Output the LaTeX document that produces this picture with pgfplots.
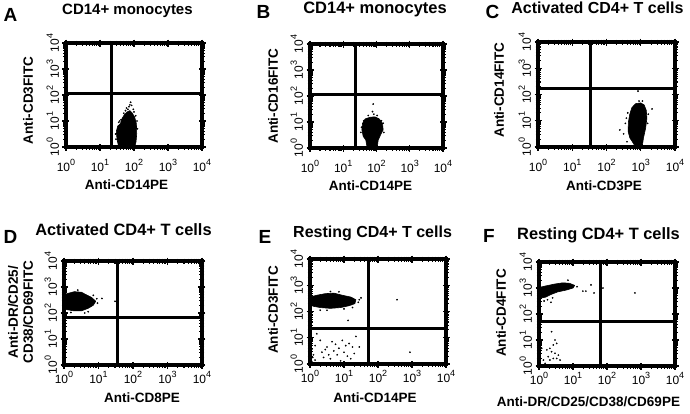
\documentclass[border=0pt]{standalone}
\usepackage{fontspec}
\setmainfont{Liberation Sans}
\usepackage{pgfplots}
\pgfplotsset{compat=1.18}
\newcommand{\tl}[1]{10\raisebox{0.5em}{\fontsize{9}{9}\selectfont #1}}
\pgfplotsset{
 flow/.style={
  scale only axis, anchor=south west, clip=false,
  xmin=0,xmax=4,ymin=0,ymax=4,
  xtick={0,1,2,3,4}, ytick={0,1,2,3,4},
  xticklabels={\tl{0},\tl{1},\tl{2},\tl{3},\tl{4}},
  yticklabels={\tl{0},\tl{1},\tl{2},\tl{3},\tl{4}},
  minor xtick={0.301,0.477,0.602,0.699,0.778,0.845,0.903,0.954,1.301,1.477,1.602,1.699,1.778,1.845,1.903,1.954,2.301,2.477,2.602,2.699,2.778,2.845,2.903,2.954,3.301,3.477,3.602,3.699,3.778,3.845,3.903,3.954},
  minor ytick={0.301,0.477,0.602,0.699,0.778,0.845,0.903,0.954,1.301,1.477,1.602,1.699,1.778,1.845,1.903,1.954,2.301,2.477,2.602,2.699,2.778,2.845,2.903,2.954,3.301,3.477,3.602,3.699,3.778,3.845,3.903,3.954},
  tick align=center, major tick length=7pt, minor tick length=5pt,
  every tick/.style={black, line width=1.1pt},
  axis line style={line width=3.2pt},
  every outer x axis line/.append style={line width=3.2pt},
  every outer y axis line/.append style={line width=3.2pt},
  tick label style={font=\fontsize{12}{13}\selectfont},
  yticklabel style={rotate=90, anchor=south},
  label style={font=\bfseries\fontsize{13.5}{15}\selectfont},
  xlabel style={anchor=base},
  ylabel style={anchor=center, rotate=0},
  title style={font=\bfseries\fontsize{16}{18}\selectfont, anchor=base},
 },
 toprow/.style={xticklabel style={anchor=north, yshift=-5pt}},
 botrow/.style={xticklabel style={anchor=north, yshift=1pt}},
 quad/.style={black, line width=3pt, no marks},
 blob/.style={fill=black, draw=black, line width=0.6pt, line join=round, no marks},
 dots/.style={only marks, mark=*, mark size=0.65pt, black},
}
\tikzset{letter/.style={font=\bfseries\fontsize{19}{20}\selectfont, anchor=base}}
\begin{document}
\begin{tikzpicture}
\useasboundingbox (0,0) rectangle (690pt,413pt);
% ---------------- A
\begin{axis}[flow, toprow, at={(66pt,266pt)}, width=136pt, height=104pt,
  title={CD14+ monocytes}, title style={at={(axis description cs:0.452,1.221)}, font=\bfseries\fontsize{15}{17}\selectfont},
  xlabel={Anti-CD14PE}, xlabel style={at={(axis description cs:0.445,-0.413)}},
  ylabel={Anti-CD3FITC}, ylabel style={at={(axis description cs:-0.279,0.447)}}]
\addplot[quad] coordinates {(1.35,0) (1.35,4)};
\addplot[quad] coordinates {(0,2.04) (4,2.04)};
\addplot[blob] coordinates {(1.55,0) (1.50,0.3) (1.48,0.6) (1.52,0.8) (1.60,0.9) (1.65,1.1) (1.72,1.25) (1.80,1.35) (1.88,1.4) (1.95,1.3) (2.02,1.15) (2.07,0.9) (2.08,0.5) (2.06,0.2) (2.02,0) (1.55,0)};
\addplot[dots] coordinates {(1.90,1.72) (1.85,1.55) (1.93,1.6) (1.78,1.5) (1.98,1.45) (1.70,1.3) (2.05,1.2) (1.55,0.95) (1.46,0.5) (2.1,0.7) (1.88,1.62) (1.82,1.45) (1.62,1.05) (2.09,1.0) (1.75,1.4) (2.0,1.35) (1.47,0.3) (1.58,1.0)};
\node[letter] at (axis description cs:-0.408,1.202) {A};
\end{axis}
% ---------------- B
\begin{axis}[flow, toprow, at={(310pt,265pt)}, width=133pt, height=104pt,
  title={CD14+ monocytes}, title style={at={(axis description cs:0.489,1.24)}, font=\bfseries\fontsize{16.5}{18}\selectfont},
  xlabel={Anti-CD14PE}, xlabel style={at={(axis description cs:0.455,-0.404)}},
  ylabel={Anti-CD16FITC}, ylabel style={at={(axis description cs:-0.278,0.5)}}]
\addplot[quad] coordinates {(1.38,0) (1.38,4)};
\addplot[quad] coordinates {(0,2.04) (4,2.04)};
\addplot[blob] coordinates {(1.72,0) (1.68,0.3) (1.60,0.45) (1.56,0.7) (1.58,0.95) (1.66,1.12) (1.80,1.18) (1.95,1.2) (2.08,1.12) (2.18,0.95) (2.2,0.7) (2.12,0.5) (2.05,0.3) (2.02,0) (1.72,0)};
\addplot[dots] coordinates {(1.9,1.69) (1.88,1.4) (1.92,1.3) (2.2,0.95) (1.55,0.8) (2.22,0.6) (1.62,1.05) (1.75,1.25) (2.02,1.25) (1.53,0.6) (2.15,1.05)};
\node[letter] at (axis description cs:-0.35,1.247) {B};
\end{axis}
% ---------------- C
\begin{axis}[flow, toprow, at={(538pt,266pt)}, width=137pt, height=105pt,
  title={Activated CD4+ T cells}, title style={at={(axis description cs:0.434,1.216)}},
  xlabel={Anti-CD3PE}, xlabel style={at={(axis description cs:0.482,-0.41)}},
  ylabel={Anti-CD14FITC}, ylabel style={at={(axis description cs:-0.285,0.543)}}]
\addplot[quad] coordinates {(1.52,0) (1.52,4)};
\addplot[quad] coordinates {(0,2.21) (4,2.21)};
\addplot[blob] coordinates {(2.85,0) (2.78,0.15) (2.68,0.35) (2.63,0.6) (2.64,0.95) (2.68,1.25) (2.74,1.5) (2.85,1.65) (3.0,1.68) (3.1,1.6) (3.16,1.4) (3.18,1.1) (3.14,0.7) (3.08,0.35) (3.04,0) (2.85,0)};
\addplot[dots] coordinates {(2.92,2.13) (2.39,0.65) (3.33,1.45) (2.55,0.9) (2.5,0.5) (3.22,1.25) (2.6,0.2) (2.95,1.75) (3.2,0.9) (2.58,1.1) (2.62,1.3) (3.05,1.75)};
\node[letter] at (axis description cs:-0.332,1.226) {C};
\end{axis}
% ---------------- D
\begin{axis}[flow, botrow, at={(64pt,48pt)}, width=138pt, height=104pt,
  title={Activated CD4+ T cells}, title style={at={(axis description cs:0.431,1.183)}, font=\bfseries\fontsize{16.4}{18}\selectfont},
  xlabel={Anti-CD8PE}, xlabel style={at={(axis description cs:0.565,-0.365)}},
  ylabel={Anti-DR/CD25/\\CD38/CD69FITC}, ylabel style={at={(axis description cs:-0.315,0.51)}, align=center}]
\addplot[quad] coordinates {(1.54,0) (1.54,4)};
\addplot[quad] coordinates {(0,1.81) (4,1.81)};
\addplot[blob] coordinates {(0,2.15) (0,2.7) (0.1,2.75) (0.3,2.82) (0.5,2.8) (0.65,2.7) (0.8,2.6) (0.92,2.45) (0.85,2.3) (0.7,2.18) (0.5,2.08) (0.3,2.08) (0.12,2.12) (0,2.15)};
\addplot[dots] coordinates {(1.1,2.56) (1.48,2.45) (0.7,2.05) (0.95,2.55) (0.97,2.38) (0.4,2.88) (0.2,2.02) (0.6,2.0) (0.85,2.68)};
\node[letter] at (axis description cs:-0.388,1.173) {D};
\end{axis}
% ---------------- E
\begin{axis}[flow, botrow, at={(310pt,49pt)}, width=136pt, height=105pt,
  title={Resting CD4+ T cells}, title style={at={(axis description cs:0.46,1.152)}},
  xlabel={Anti-CD14PE}, xlabel style={at={(axis description cs:0.478,-0.371)}},
  ylabel={Anti-CD3FITC}, ylabel style={at={(axis description cs:-0.272,0.514)}}]
\addplot[quad] coordinates {(1.71,0) (1.71,4)};
\addplot[quad] coordinates {(0,1.37) (4,1.37)};
\addplot[blob] coordinates {(0,2.25) (0,2.55) (0.2,2.62) (0.45,2.68) (0.7,2.7) (0.95,2.62) (1.2,2.55) (1.35,2.45) (1.32,2.3) (1.15,2.22) (0.9,2.15) (0.6,2.12) (0.3,2.15) (0.1,2.2) (0,2.25)};
\addplot[dots] coordinates {(1.45,2.45) (1.5,2.52) (1.42,2.35) (0.85,2.75) (0.5,2.05) (1.0,2.1) (1.12,1.66) (2.56,2.45) (2.94,0.45) (0.3,2.05) (1.25,2.15) (0.6,2.76)
 (0.2,1.15) (0.65,0.85) (0.15,0.7) (0.5,0.65) (0.75,0.75) (0.85,0.6) (1.05,0.7) (1.15,0.78) (1.25,0.65) (1.35,1.05) (1.45,0.65) (0.35,0.45) (0.55,0.35) (0.1,0.35) (0.8,0.35) (1.0,0.45) (0.6,0.2) (0.15,0.15) (0.9,0.12) (1.2,0.2) (0.05,0.55) (0.3,0.9) (0.4,0.25) (0.7,0.5) (1.1,0.3) (0.25,0.05) (0.05,0.1) (0.45,0.55) (1.3,0.4) (0.95,0.9) (0.02,0.2) (0.03,0.4) (0.02,0.05) (0.08,0.25)};
\node[letter] at (axis description cs:-0.331,1.152) {E};
\end{axis}
% ---------------- F
\begin{axis}[flow, botrow, at={(539pt,47pt)}, width=136pt, height=104pt,
  title={Resting CD4+ T cells}, title style={at={(axis description cs:0.4375,1.163)}, font=\bfseries\fontsize{16.4}{18}\selectfont},
  xlabel={Anti-DR/CD25/CD38/CD69PE}, xlabel style={at={(axis description cs:0.364,-0.394)}},
  ylabel={Anti-CD4FITC}, ylabel style={at={(axis description cs:-0.279,0.51)}}]
\addplot[quad] coordinates {(1.82,0) (1.82,4)};
\addplot[quad] coordinates {(0,1.73) (4,1.73)};
\addplot[blob] coordinates {(0,2.68) (0,3.02) (0.2,3.08) (0.45,3.15) (0.7,3.2) (0.9,3.18) (1.05,3.1) (1.0,3.0) (0.8,2.92) (0.55,2.85) (0.35,2.75) (0.2,2.65) (0.08,2.62) (0,2.68)};
\addplot[dots] coordinates {(0.25,2.55) (0.4,2.62) (0.15,2.5) (0.35,2.45) (1.12,3.05) (0.85,3.3) (1.29,2.88) (1.38,2.88) (1.53,3.12) (1.62,2.81) (1.88,3.0) (2.82,2.81) (1.79,0.88)
 (0.37,1.32) (0.47,1.0) (0.52,0.87) (0.42,0.81) (0.32,0.68) (0.23,0.62) (0.37,0.55) (0.47,0.49) (0.57,0.42) (0.27,0.36) (0.42,0.29) (0.52,0.29) (0.13,0.23) (0.32,0.23) (0.08,0.68) (0.03,0.42) (0.0,0.1) (0.18,0.1) (0.62,0.23) (0.02,0.15) (0.03,0.3) (0.05,0.05) (0.02,0.5)};
\node[letter] at (axis description cs:-0.368,1.183) {F};
\end{axis}
\end{tikzpicture}
\end{document}
